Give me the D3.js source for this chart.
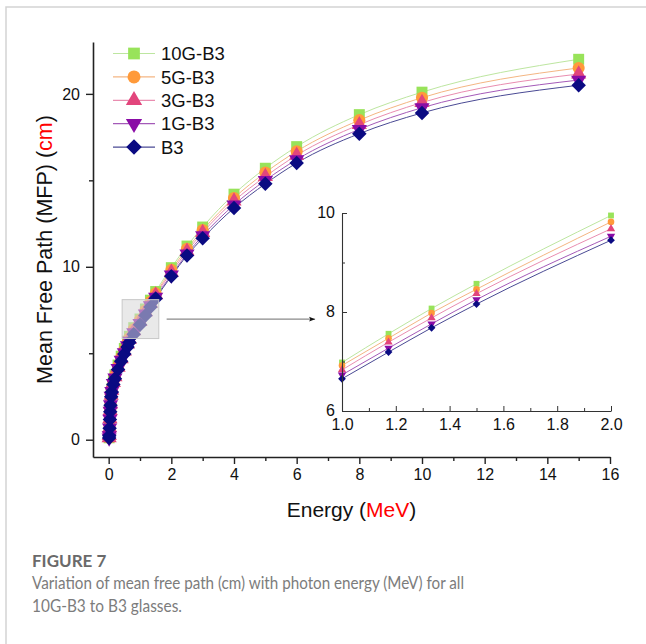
<!DOCTYPE html>
<html>
<head>
<meta charset="utf-8">
<script src="https://cdn.jsdelivr.net/npm/d3@7"></script>
<style>
  body { margin: 0; background: #fff; }
  svg text { font-family: "Liberation Sans", Arial, sans-serif; }
  svg text.caption { font-family: Lato, "Open Sans", sans-serif; }
</style>
</head>
<body>
<script>
const width = 646
const height = 644

// photon energy (MeV)
const energy = [0.015, 0.02, 0.03, 0.04, 0.05, 0.06, 0.08, 0.1, 0.15, 0.2, 0.3, 0.4, 0.5, 0.6, 0.662, 0.8,
  1, 1.173, 1.333, 1.5, 2, 2.5, 3, 4, 5, 6, 8, 10, 15]

// mean free path (cm) per glass
const mfp10G = [0.11, 0.25, 0.71, 1.25, 1.73, 2.13, 2.64, 2.94, 3.41, 3.75, 4.32, 4.83, 5.28, 5.70, 5.98, 6.48,
  6.98, 7.56, 8.07, 8.57, 9.95, 11.20, 12.30, 14.20, 15.70, 16.95, 18.80, 20.10, 22.00]
const mfp5G = [0.11, 0.25, 0.70, 1.23, 1.70, 2.09, 2.60, 2.89, 3.35, 3.69, 4.25, 4.75, 5.19, 5.61, 5.88, 6.38,
  6.92, 7.47, 7.98, 8.46, 9.82, 11.04, 12.12, 13.98, 15.45, 16.68, 18.48, 19.78, 21.50]
const mfp3G = [0.10, 0.24, 0.69, 1.21, 1.68, 2.06, 2.56, 2.85, 3.30, 3.63, 4.19, 4.68, 5.12, 5.53, 5.80, 6.29,
  6.83, 7.39, 7.88, 8.37, 9.68, 10.90, 11.98, 13.80, 15.22, 16.45, 18.22, 19.50, 21.15]
const mfp1G = [0.10, 0.24, 0.68, 1.19, 1.65, 2.03, 2.52, 2.80, 3.25, 3.57, 4.12, 4.60, 5.03, 5.44, 5.70, 6.19,
  6.73, 7.27, 7.76, 8.25, 9.53, 10.75, 11.80, 13.58, 15.00, 16.20, 17.95, 19.20, 20.80]
const mfpB3 = [0.10, 0.23, 0.66, 1.17, 1.62, 2.00, 2.48, 2.76, 3.20, 3.52, 4.06, 4.54, 4.96, 5.36, 5.62, 6.10,
  6.65, 7.19, 7.68, 8.16, 9.45, 10.65, 11.65, 13.40, 14.80, 16.00, 17.70, 18.90, 20.50]

const names = ["10G-B3", "5G-B3", "3G-B3", "1G-B3", "B3"]
const values = [mfp10G, mfp5G, mfp3G, mfp1G, mfpB3]

const xTicks = [0, 2, 4, 6, 8, 10, 12, 14, 16]
const xMinor = [1, 3, 5, 7, 9, 11, 13, 15]
const yTicks = [0, 10, 20]
const yMinor = [5, 15]
const insetXTicks = [1.0, 1.2, 1.4, 1.6, 1.8, 2.0]
const insetXMinor = [1.1, 1.3, 1.5, 1.7, 1.9]
const insetYTicks = [6, 8, 10]
const insetYMinor = [7, 9]

const fillColors = ["#98e35a", "#ff9a3a", "#e2457c", "#8a0ca6", "#0a0a82"]
const lineColors = ["#bde6a0", "#f4b683", "#e98db0", "#a45ab8", "#4a4a94"]
const shapes = ["square", "circle", "triangle", "triangleDown", "diamond"]

const series = names.map((name, i) => ({
  name,
  fill: fillColors[i],
  line: lineColors[i],
  shape: shapes[i],
  points: energy.map((e, j) => ({x: e, y: values[i][j]}))
}))

const x = d3.scaleLinear().domain([-0.5, 16]).range([93, 610])
const y = d3.scaleLinear().domain([-1, 23]).range([457, 42])

const ix = d3.scaleLinear().domain([1, 2]).range([342, 611])
const iy = d3.scaleLinear().domain([6, 10]).range([411, 213])

function symbolPath(shape, size) {
  if (shape === "square") return d3.symbol(d3.symbolSquare, size)()
  if (shape === "circle") return d3.symbol(d3.symbolCircle, size)()
  if (shape === "diamond") return d3.symbol(d3.symbolSquare, size)()
  return d3.symbol(d3.symbolTriangle, size)()
}
function symbolRotate(shape) {
  if (shape === "diamond") return " rotate(45)"
  if (shape === "triangleDown") return " rotate(180)"
  return ""
}
const mainSize = {square: 120, circle: 115, triangle: 100, triangleDown: 100, diamond: 105}
const insetSize = {square: 34, circle: 34, triangle: 30, triangleDown: 30, diamond: 30}

const svg = d3.select("body").append("svg")
    .attr("width", width)
    .attr("height", height)
    .attr("viewBox", [0, 0, width, height])

// card frame
svg.append("path")
    .attr("d", `M6,${height} V7 H${width}`)
    .attr("fill", "none")
    .attr("stroke", "#d3d3d3")
    .attr("stroke-width", 1.5)

// ---- main plot ----
const line = d3.line().x(d => x(d.x)).y(d => y(d.y)).curve(d3.curveMonotoneX)

const main = svg.append("g")
series.forEach(s => {
  main.append("path")
      .datum(s.points)
      .attr("fill", "none")
      .attr("stroke", s.line)
      .attr("stroke-width", 1)
      .attr("d", line)
})
series.forEach(s => {
  main.append("g")
    .selectAll("path")
    .data(s.points)
    .join("path")
      .attr("transform", d => `translate(${x(d.x)},${y(d.y)})` + symbolRotate(s.shape))
      .attr("d", symbolPath(s.shape, mainSize[s.shape]))
      .attr("fill", s.fill)
})

// zoom box and arrow
const box = {e0: 0.43, e1: 1.6, m0: 5.85, m1: 8.1}
svg.append("rect")
    .attr("x", x(box.e0))
    .attr("y", y(box.m1))
    .attr("width", x(box.e1) - x(box.e0))
    .attr("height", y(box.m0) - y(box.m1))
    .attr("fill", "rgba(215,215,215,0.55)")
    .attr("stroke", "#c8c8c8")
    .attr("stroke-width", 1)

svg.append("defs").append("marker")
    .attr("id", "arrowhead")
    .attr("viewBox", "0 0 10 10")
    .attr("refX", 10).attr("refY", 5)
    .attr("markerWidth", 10).attr("markerHeight", 6)
    .attr("markerUnits", "userSpaceOnUse")
    .attr("orient", "auto")
  .append("path")
    .attr("d", "M0,1 L10,5 L0,9 L2,5 Z")
    .attr("fill", "#111")

const arrowY = y(6.97)
svg.append("line")
    .attr("x1", x(1.85)).attr("x2", ix(0.9))
    .attr("y1", arrowY).attr("y2", arrowY)
    .attr("stroke", "#8a8a8a")
    .attr("stroke-width", 1.3)
    .attr("marker-end", "url(#arrowhead)")

// main axes
const styleAxis = g => {
  g.select(".domain").attr("stroke", "#222").attr("stroke-width", 1.6)
  g.selectAll(".tick line").attr("stroke", "#222").attr("stroke-width", 1.4)
  g.selectAll(".tick text").attr("fill", "#111").attr("font-size", 16)
}

svg.append("g")
    .attr("transform", `translate(0,${y.range()[0]})`)
    .call(d3.axisBottom(x).tickValues(xMinor).tickSize(4).tickFormat(""))
    .call(g => g.select(".domain").remove())
    .call(styleAxis)
svg.append("g")
    .attr("transform", `translate(0,${y.range()[0]})`)
    .call(d3.axisBottom(x).tickValues(xTicks).tickSize(7).tickSizeOuter(0).tickPadding(5))
    .call(styleAxis)

svg.append("g")
    .attr("transform", `translate(${x.range()[0]},0)`)
    .call(d3.axisLeft(y).tickValues(yMinor).tickSize(4).tickFormat(""))
    .call(g => g.select(".domain").remove())
    .call(styleAxis)
svg.append("g")
    .attr("transform", `translate(${x.range()[0]},0)`)
    .call(d3.axisLeft(y).tickValues(yTicks).tickSize(7).tickSizeOuter(0).tickPadding(6))
    .call(styleAxis)

// axis titles
const xTitle = svg.append("text")
    .attr("x", (x.range()[0] + x.range()[1]) / 2)
    .attr("y", 517)
    .attr("text-anchor", "middle")
    .attr("font-size", 21)
    .attr("fill", "#111")
xTitle.append("tspan").text("Energy (")
xTitle.append("tspan").attr("fill", "#ff0000").text("MeV")
xTitle.append("tspan").text(")")

const yTitle = svg.append("text")
    .attr("transform", `translate(52,${(y.range()[0] + y.range()[1]) / 2}) rotate(-90)`)
    .attr("text-anchor", "middle")
    .attr("font-size", 21.5)
    .attr("fill", "#111")
yTitle.append("tspan").text("Mean Free Path (MFP) (")
yTitle.append("tspan").attr("fill", "#ff0000").text("cm")
yTitle.append("tspan").text(")")

// legend
const legend = svg.append("g")
series.forEach((s, i) => {
  const ly = 53.5 + i * 23.4
  const g = legend.append("g").attr("transform", `translate(0,${ly})`)
  g.append("line")
      .attr("x1", 113).attr("x2", 155)
      .attr("stroke", s.line).attr("stroke-width", 1.2)
  g.append("path")
      .attr("transform", "translate(134,0)" + symbolRotate(s.shape))
      .attr("d", symbolPath(s.shape, mainSize[s.shape] * 1.15))
      .attr("fill", s.fill)
  g.append("text")
      .attr("x", 161)
      .attr("dy", "0.36em")
      .attr("font-size", 18.5)
      .attr("fill", "#111")
      .text(s.name)
})

// ---- inset ----
const iline = d3.line().x(d => ix(d.x)).y(d => iy(d.y)).curve(d3.curveMonotoneX)
const inset = svg.append("g")
series.forEach(s => {
  const pts = s.points.filter(d => d.x >= 1 && d.x <= 2)
  inset.append("path")
      .datum(pts)
      .attr("fill", "none")
      .attr("stroke", s.line)
      .attr("stroke-width", 1)
      .attr("d", iline)
})
series.forEach(s => {
  const pts = s.points.filter(d => d.x >= 1 && d.x <= 2)
  inset.append("g")
    .selectAll("path")
    .data(pts)
    .join("path")
      .attr("transform", d => `translate(${ix(d.x)},${iy(d.y)})` + symbolRotate(s.shape))
      .attr("d", symbolPath(s.shape, insetSize[s.shape]))
      .attr("fill", s.fill)
})

const styleInset = g => {
  g.select(".domain").attr("stroke", "#333").attr("stroke-width", 1.1)
  g.selectAll(".tick line").attr("stroke", "#333").attr("stroke-width", 1)
  g.selectAll(".tick text").attr("fill", "#111").attr("font-size", 16)
}

svg.append("g")
    .attr("transform", `translate(0,${iy.range()[0]})`)
    .call(d3.axisBottom(ix).tickValues(insetXMinor).tickSize(-3).tickFormat(""))
    .call(g => g.select(".domain").remove())
    .call(styleInset)
svg.append("g")
    .attr("transform", `translate(0,${iy.range()[0]})`)
    .call(d3.axisBottom(ix).tickValues(insetXTicks).tickSize(-5).tickSizeOuter(0)
      .tickFormat(d3.format(".1f")))
    .call(styleInset)
    .call(g => g.selectAll(".tick text").attr("y", 7.5))

svg.append("g")
    .attr("transform", `translate(${ix.range()[0]},0)`)
    .call(d3.axisLeft(iy).tickValues(insetYMinor).tickSize(-3).tickFormat(""))
    .call(g => g.select(".domain").remove())
    .call(styleInset)
svg.append("g")
    .attr("transform", `translate(${ix.range()[0]},0)`)
    .call(d3.axisLeft(iy).tickValues(insetYTicks).tickSize(-5).tickSizeOuter(0)
      .tickFormat(d3.format("d")))
    .call(styleInset)
    .call(g => g.selectAll(".tick text").attr("x", -7).attr("dy", "0.28em"))

// ---- caption ----
svg.append("text")
    .attr("class", "caption")
    .attr("x", 32).attr("y", 567)
    .attr("font-weight", 700)
    .attr("font-size", 17)
    .attr("fill", "#6a6a6a")
    .text("FIGURE 7")

const captionLines = ["Variation of mean free path (cm) with photon energy (MeV) for all", "10G-B3 to B3 glasses."]
const captionWidths = [432, 150]
svg.append("g")
  .selectAll("text")
  .data(captionLines)
  .join("text")
    .attr("class", "caption")
    .attr("x", 32)
    .attr("y", (d, i) => 589 + i * 22.5)
    .attr("font-size", 16.5)
    .attr("fill", "#7c7c7c")
    .attr("textLength", (d, i) => captionWidths[i])
    .attr("lengthAdjust", "spacingAndGlyphs")
    .text(d => d)
</script>
</body>
</html>
